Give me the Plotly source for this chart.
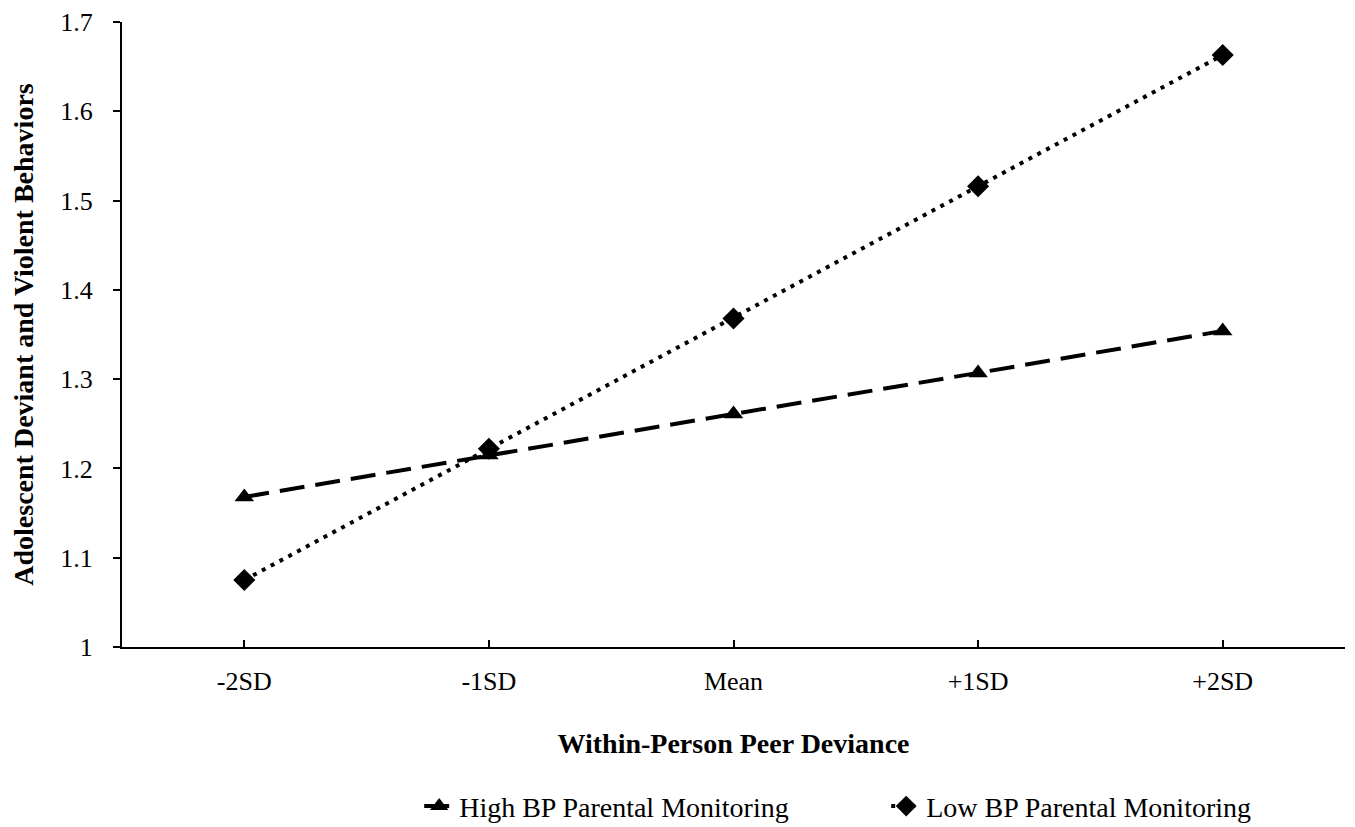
import plotly.graph_objects as go

categories = ["-2SD", "-1SD", "Mean", "+1SD", "+2SD"]
high_bp = [1.168, 1.215, 1.261, 1.307, 1.354]
low_bp = [1.075, 1.222, 1.368, 1.516, 1.663]
y_ticks = [1, 1.1, 1.2, 1.3, 1.4, 1.5, 1.6, 1.7]
y_tick_labels = ["1", "1.1", "1.2", "1.3", "1.4", "1.5", "1.6", "1.7"]

FONT = "Liberation Serif, Times New Roman, serif"
xs = list(range(len(categories)))

fig = go.Figure()
fig.add_trace(go.Scatter(
    x=xs, y=high_bp, mode="lines+markers", name="High BP Parental Monitoring",
    line=dict(color="black", width=4, dash="25px,11px"),
    marker=dict(symbol="triangle-up", size=17, color="black"),
))
fig.add_trace(go.Scatter(
    x=xs, y=low_bp, mode="lines+markers", name="Low BP Parental Monitoring",
    line=dict(color="black", width=4, dash="4px,6px"),
    marker=dict(symbol="diamond", size=17, color="black"),
))

fig.update_layout(
    width=1355, height=827,
    margin=dict(l=122, r=10, t=22, b=180, autoexpand=False),
    plot_bgcolor="white", paper_bgcolor="white",
    font=dict(family=FONT, size=26, color="black"),
    showlegend=True,
    legend=dict(orientation="h", x=0.243, xanchor="left", y=-0.255, yanchor="middle",
                font=dict(family=FONT, size=28), entrywidth=422, entrywidthmode="pixels",
                traceorder="normal"),
    xaxis=dict(
        range=[-0.5, 4.5], tickmode="array", tickvals=xs + [4.5], ticktext=categories + [""],
        ticks="inside", ticklen=7, tickwidth=2, tickcolor="black",
        showline=True, linecolor="black", linewidth=2, showgrid=False, zeroline=False,
        tickfont=dict(family=FONT, size=26), ticklabelstandoff=10,
        title=dict(text="<b>Within-Person Peer Deviance</b>", font=dict(family=FONT, size=28), standoff=38),
    ),
    yaxis=dict(
        range=[1, 1.7], tickmode="array", tickvals=y_ticks, ticktext=y_tick_labels,
        ticks="outside", ticklen=7, tickwidth=2, tickcolor="black",
        showline=True, linecolor="black", linewidth=2, showgrid=False, zeroline=False,
        tickfont=dict(family=FONT, size=26), ticklabelstandoff=15,
        title=dict(text="<b>Adolescent Deviant and Violent Behaviors</b>", font=dict(family=FONT, size=28), standoff=18),
    ),
)

fig.write_html("out.html")
